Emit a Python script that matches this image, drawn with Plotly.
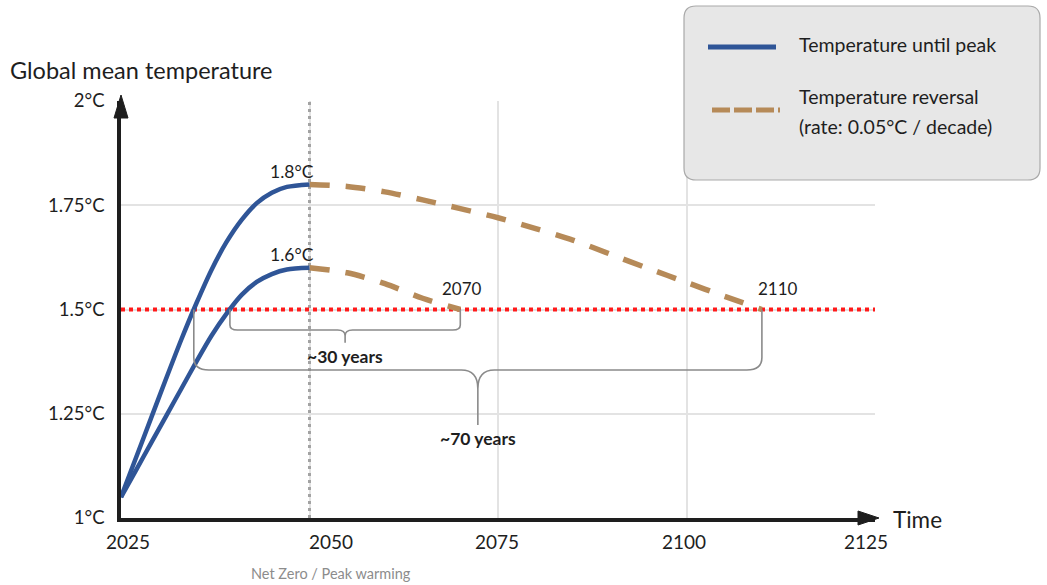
import numpy as np
import plotly.graph_objects as go

# Warming pathways up to the peak (net zero reached in 2050)
peak_years = [2025, 2027, 2029, 2031, 2033, 2035, 2037, 2039, 2041, 2043, 2045, 2047, 2050]
high_peak_temp = [1.05, 1.145, 1.24, 1.335, 1.428, 1.515, 1.595, 1.662, 1.715, 1.755, 1.78, 1.794, 1.80]
low_peak_temp = [1.05, 1.115, 1.18, 1.245, 1.31, 1.375, 1.437, 1.49, 1.535, 1.566, 1.585, 1.596, 1.60]

# Temperature decline after the peak
high_rev_years = [2050, 2055, 2060, 2065, 2070, 2075, 2080, 2085, 2090, 2095, 2100, 2105, 2110]
high_rev_temp = [1.80, 1.795, 1.782, 1.763, 1.742, 1.72, 1.694, 1.666, 1.632, 1.598, 1.565, 1.532, 1.50]
low_rev_years = [2050, 2055, 2060, 2065, 2070]
low_rev_temp = [1.60, 1.588, 1.562, 1.527, 1.50]

threshold = 1.5
peak_year = 2050
x_ticks = [2025, 2050, 2075, 2100, 2125]
y_ticks = [1.0, 1.25, 1.5, 1.75, 2.0]
y_tick_text = ["1°C", "1.25°C", "1.5°C", "1.75°C", "2°C"]
span_labels = ["~30 years", "~70 years"]

BLUE = "#2f5597"
TAN = "#b68a58"
RED = "#ff1a1a"
FONT = "Lato"
INK = "#1e1e1e"

W, H = 1047, 585
L, R, T, B = 121, 172, 101, 67
PW, PH = W - L - R, H - T - B


def px_x(px):
    return (px - L) / PW


def px_y(py):
    return (H - B - py) / PH


fig = go.Figure()

# 1.5 °C threshold
fig.add_trace(go.Scatter(x=[x_ticks[0], x_ticks[-1]], y=[threshold, threshold], mode="lines",
                         line=dict(color=RED, width=4, dash="4px,4px"), hoverinfo="skip",
                         showlegend=False))

for yrs, tmp in [(high_rev_years, high_rev_temp), (low_rev_years, low_rev_temp)]:
    fig.add_trace(go.Scatter(x=yrs, y=tmp, mode="lines", line_shape="spline",
                             line=dict(color=TAN, width=5.5, dash="20px,16px", smoothing=0.8),
                             showlegend=False))
for tmp in [high_peak_temp, low_peak_temp]:
    fig.add_trace(go.Scatter(x=peak_years, y=tmp, mode="lines", line_shape="spline",
                             line=dict(color=BLUE, width=4.5, smoothing=0.8), showlegend=False))

shapes = []
annotations = []

# net-zero marker line
shapes.append(dict(type="line", xref="x", yref="y", x0=peak_year, x1=peak_year, y0=1, y1=2,
                   line=dict(color="#a3a3a3", width=3, dash="3px,4px"), layer="between"))


# curly braces marking time spent above 1.5 °C
def brace(x0, x1, ytop, ybar, ytip, rx, ry, nrx, nry):
    xm = (x0 + x1) / 2
    return (f"M {x0},{ytop} L {x0},{ybar + ry} Q {x0},{ybar} {x0 + rx},{ybar} "
            f"L {xm - nrx},{ybar} Q {xm},{ybar} {xm},{ybar - nry} L {xm},{ytip} "
            f"L {xm},{ybar - nry} Q {xm},{ybar} {xm + nrx},{ybar} "
            f"L {x1 - rx},{ybar} Q {x1},{ybar} {x1},{ybar + ry} L {x1},{ytop}")


cross_low = float(np.interp(threshold, low_peak_temp, peak_years))
cross_high = float(np.interp(threshold, high_peak_temp, peak_years))
braces = [
    (cross_low, low_rev_years[-1], 1.451, 1.42, 1.0, 0.012, 1.0, 0.014),
    (cross_high, high_rev_years[-1], 1.355, 1.223, 2.0, 0.03, 2.2, 0.045),
]
for (x0, x1, ybar, ytip, rx, ry, nrx, nry), label in zip(braces, span_labels):
    shapes.append(dict(type="path", xref="x", yref="y",
                       path=brace(x0, x1, threshold, ybar, ytip, rx, ry, nrx, nry),
                       line=dict(color="#8a8a8a", width=1.6)))
    annotations.append(dict(x=(x0 + x1) / 2, y=ytip, xref="x", yref="y", text=label,
                            showarrow=False, xanchor="center", yanchor="top", yshift=-1,
                            font=dict(family=FONT, size=17.5, color=INK, weight="bold")))

# peak and end labels
for tmp, dy in [(high_peak_temp, 0), (low_peak_temp, 1)]:
    annotations.append(dict(x=peak_year, y=tmp[-1], xref="x", yref="y",
                            text=f"{tmp[-1]:.1f}°C", showarrow=False,
                            xanchor="right", yanchor="bottom", xshift=6, yshift=dy,
                            font=dict(family=FONT, size=17.5, color=INK)))
for yrs, tmp, dx in [(low_rev_years, low_rev_temp, 2), (high_rev_years, high_rev_temp, 16)]:
    annotations.append(dict(x=yrs[-1], y=tmp[-1], xref="x", yref="y", text=str(yrs[-1]),
                            showarrow=False, xanchor="center", yanchor="bottom",
                            xshift=dx, yshift=9,
                            font=dict(family=FONT, size=17, color=INK)))

# x tick labels
tick_shift = [7, 21, -1, -3, -9]
for xv, dx in zip(x_ticks, tick_shift):
    annotations.append(dict(x=xv, y=px_y(541), xref="x", yref="paper", text=str(xv),
                            showarrow=False, xanchor="center", yanchor="middle", xshift=dx,
                            font=dict(family=FONT, size=19, color=INK)))

# axis arrow heads
shapes.append(dict(type="path", xref="paper", yref="paper",
                   path=f"M {-7 / PW},{px_y(118)} L 0,{px_y(95)} L {7 / PW},{px_y(118)} Z",
                   fillcolor=INK, line=dict(color=INK, width=1)))
shapes.append(dict(type="path", xref="paper", yref="paper",
                   path=f"M {px_x(858)},{7 / PH} L {px_x(879)},0 L {px_x(858)},{-7 / PH} Z",
                   fillcolor=INK, line=dict(color=INK, width=1)))

# axis titles and footnote
annotations.append(dict(x=px_x(8), y=px_y(70), xref="paper", yref="paper",
                        text="Global mean temperature", showarrow=False,
                        xanchor="left", yanchor="middle",
                        font=dict(family=FONT, size=23.5, color=INK)))
annotations.append(dict(x=px_x(891), y=px_y(519), xref="paper", yref="paper", text="Time",
                        showarrow=False, xanchor="left", yanchor="middle",
                        font=dict(family=FONT, size=22.5, color=INK)))
annotations.append(dict(x=peak_year, y=px_y(573), xref="x", yref="paper",
                        text="Net Zero / Peak warming", showarrow=False, xshift=21,
                        xanchor="center", yanchor="middle",
                        font=dict(family=FONT, size=14.5, color="#8c8c8c")))

# legend panel
bx0, bx1, by0, by1 = px_x(684), px_x(1040), px_y(180), px_y(6)
rx, ry = 12 / PW, 12 / PH
shapes.append(dict(type="path", xref="paper", yref="paper",
                   path=(f"M {bx0 + rx},{by1} L {bx1 - rx},{by1} Q {bx1},{by1} {bx1},{by1 - ry} "
                         f"L {bx1},{by0 + ry} Q {bx1},{by0} {bx1 - rx},{by0} "
                         f"L {bx0 + rx},{by0} Q {bx0},{by0} {bx0},{by0 + ry} "
                         f"L {bx0},{by1 - ry} Q {bx0},{by1} {bx0 + rx},{by1} Z"),
                   fillcolor="#e7e7e7", line=dict(color="#a9a9a9", width=1.2)))
shapes.append(dict(type="line", xref="paper", yref="paper", x0=px_x(708), x1=px_x(776),
                   y0=px_y(47), y1=px_y(47), line=dict(color=BLUE, width=5)))
shapes.append(dict(type="line", xref="paper", yref="paper", x0=px_x(712), x1=px_x(780),
                   y0=px_y(110), y1=px_y(110), line=dict(color=TAN, width=5, dash="18px,4px")))
legend_text = [("Temperature until peak", 45), ("Temperature reversal", 96),
               ("(rate: 0.05°C / decade)", 127)]
for txt, py in legend_text:
    annotations.append(dict(x=px_x(797), y=px_y(py), xref="paper", yref="paper", text=txt,
                            showarrow=False, xanchor="left", yanchor="middle",
                            font=dict(family=FONT, size=19.5, color=INK)))

fig.update_layout(
    width=W, height=H, margin=dict(l=L, r=R, t=T, b=B),
    paper_bgcolor="white", plot_bgcolor="white",
    font=dict(family=FONT, color=INK),
    shapes=shapes, annotations=annotations, showlegend=False,
    xaxis=dict(range=[x_ticks[0], x_ticks[-1]], tickvals=x_ticks, showticklabels=False,
               showgrid=True, gridcolor="#e3e3e3", gridwidth=1.5, zeroline=False,
               showline=True, linecolor=INK, linewidth=3.5, ticks=""),
    yaxis=dict(range=[y_ticks[0], y_ticks[-1]], tickvals=y_ticks, ticktext=y_tick_text,
               showgrid=True, gridcolor="#e3e3e3", gridwidth=1.5, zeroline=False,
               showline=True, linecolor=INK, linewidth=3.5, ticks="",
               ticklabelstandoff=9, tickfont=dict(family=FONT, size=18.5, color=INK)),
)

fig.write_html("out.html")
